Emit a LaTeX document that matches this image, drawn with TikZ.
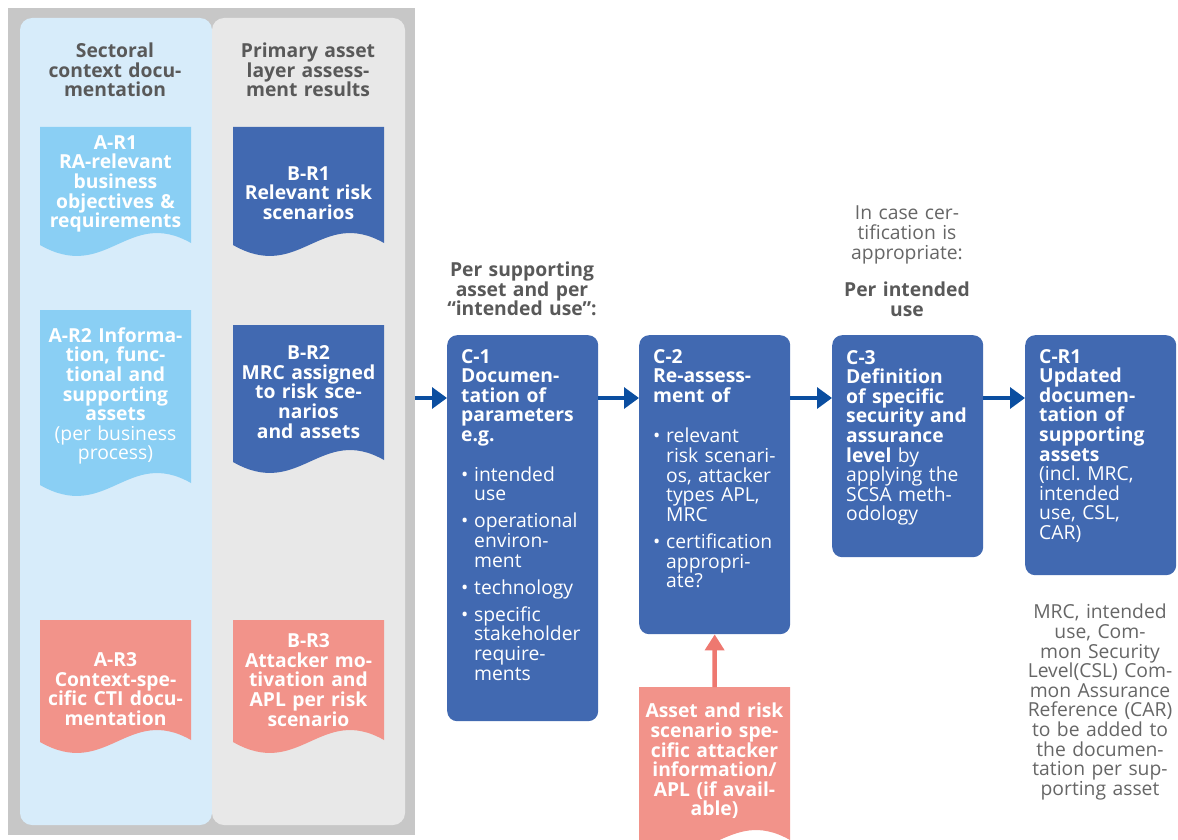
\documentclass[tikz,border=0pt]{standalone}
\usepackage{fontspec}
\setmainfont{Open Sans}
\usetikzlibrary{arrows.meta,calc}
\frenchspacing

\definecolor{frameg}{HTML}{C7C7C7}
\definecolor{panelblue}{HTML}{D7ECFA}
\definecolor{panelgrey}{HTML}{E8E8E8}
\definecolor{docblue}{HTML}{8ACFF4}
\definecolor{boxblue}{HTML}{4169B1}
\definecolor{salmon}{HTML}{F2938A}
\definecolor{arrowblue}{HTML}{0B4EA0}
\definecolor{arrowred}{HTML}{EE7870}
\definecolor{headgrey}{HTML}{595959}
\definecolor{notegrey}{HTML}{666666}

% document shape with a wavy bottom edge: colour, x0, top, x1, bottom
\newcommand\wavedoc[5]{%
  \fill[#1] (#2,#3) -- (#4,#3) -- (#4,#5-2)
    .. controls ({#2+0.58*(#4-#2)},#5-38) and ({#2+0.44*(#4-#2)},#5+38) .. (#2,#5) -- cycle;}

% bullet item with hanging indent
\newcommand\bitem[2][7.5pt]{\par\vspace{#1}{\mdseries\hangindent=13pt\hangafter=1\noindent\hbox to 13pt{\textbullet\hfil}#2\par}}

\tikzset{
  bodyfont/.style={font=\fontsize{19.3}{19.6}\selectfont\frenchspacing},
  boldfont/.style={font=\fontsize{19.3}{19.6}\selectfont\bfseries\frenchspacing},
  head/.style={boldfont, inner sep=0pt, text=headgrey, align=center, text width=190pt},
  note/.style={bodyfont, inner sep=0pt, text=notegrey, align=center, text width=190pt},
  doctext/.style={boldfont, inner sep=0pt, text=white, align=center, text width=170pt},
  cbox/.style={fill=boxblue, rounded corners=10pt, minimum width=151pt, inner sep=0pt, anchor=north west},
  ctext/.style={boldfont, inner sep=0pt, text=white, align=left, text width=160pt, anchor=north west},
  arr/.style={arrowblue, line width=3.3pt, -{Triangle[length=15pt,width=21pt]}},
  uparr/.style={arrowred, line width=4.5pt, -{Triangle[length=16pt,width=19pt]}}
}

\begin{document}
\begin{tikzpicture}[x=1pt,y=-1pt]
\clip (0,0) rectangle (1178,840);

% input panels
\node[fill=frameg, minimum width=407pt, minimum height=827pt, anchor=north west, inner sep=0pt] (frame) at (8,8) {};
\fill[panelblue, rounded corners=12pt] (20,18) rectangle (212,825);
\fill[panelgrey, rounded corners=12pt] (212,18) rectangle (405,825);

\node[head] (hA) at (115,70) {Sectoral\\context docu-\\mentation};
\node[head] (hB) at (308,70) {Primary asset\\layer assess-\\ment results};

% sectoral context documents
\wavedoc{docblue}{40}{127}{191}{245}
\node[doctext] (ar1) at (115.5,184) {A-R1\\RA-relevant\\business\\objectives \&\\requirements};
\wavedoc{docblue}{40}{310}{191}{485}
\node[doctext] (ar2) at (115.5,396) {A-R2 Informa-\\tion, func-\\tional and\\supporting\\assets\\{\mdseries (per business}\\{\mdseries process)}};
\wavedoc{salmon}{40}{620}{191}{742}
\node[doctext] (ar3) at (115.5,689) {A-R3\\Context-spe-\\cific CTI docu-\\mentation};

% primary asset layer results
\wavedoc{boxblue}{233}{127}{384}{245}
\node[doctext] (br1) at (308.5,193) {B-R1\\Relevant risk\\scenarios};
\wavedoc{boxblue}{233}{325}{384}{462}
\node[doctext] (br2) at (308.5,392) {B-R2\\MRC assigned\\to risk sce-\\narios\\and assets};
\wavedoc{salmon}{233}{620}{384}{742}
\node[doctext] (br3) at (308.5,680) {B-R3\\Attacker mo-\\tivation and\\APL per risk\\scenario};

% process headings
\node[head] (ps) at (522,289) {Per supporting\\asset and per\\“intended use”:};
\node[note] (cert) at (907,235) {In case cer-\\tification is\\appropriate:};
\node[head] (pi) at (907,299) {Per intended\\use};

% process steps
\node[cbox, minimum height=386pt] (c1) at (447,335) {};
\node[ctext] (c1t) at ($(c1.north west)+(14,14)$) {C-1\\Documen-\\tation of\\parameters\\e.g.
  \bitem[20pt]{intended\newline use}
  \bitem{operational\newline environ-\newline ment}
  \bitem{technology}
  \bitem{specific\newline stakeholder\newline require-\newline ments}};

\node[cbox, minimum height=299pt] (c2) at (639,335) {};
\node[ctext] (c2t) at ($(c2.north west)+(14,14)$) {C-2\\Re-assess-\\ment of
  \bitem[21pt]{relevant\newline risk scenari-\newline os, attacker\newline types APL,\newline MRC}
  \bitem{certification\newline appropri-\newline ate?}};

\node[cbox, minimum height=222pt] (c3) at (832,335) {};
\node[ctext] (c3t) at ($(c3.north west)+(14,15)$) {C-3\\Definition\\of specific\\security and\\assurance\\level {\mdseries by}\\{\mdseries applying the}\\{\mdseries SCSA meth-}\\{\mdseries odology}};

\node[cbox, minimum height=240pt] (cr1) at (1025,335) {};
\node[ctext] (cr1t) at ($(cr1.north west)+(14,14)$) {C-R1\\Updated\\documen-\\tation of\\supporting\\assets\\{\mdseries (incl. MRC,}\\{\mdseries intended}\\{\mdseries use, CSL,}\\{\mdseries CAR)}};

\node[note] (crn) at (1100,702) {MRC, intended\\use, Com-\\mon Security\\Level(CSL) Com-\\mon Assurance\\Reference (CAR)\\to be added to\\the documen-\\tation per sup-\\porting asset};

% attacker information input
\wavedoc{salmon}{639}{687}{790}{842}
\node[doctext, anchor=north, inner ysep=16pt] (sal) at (714.5,687) {Asset and risk\\scenario spe-\\cific attacker\\information/\\APL (if avail-\\able)};

% flow
\coordinate (ay) at (0,398);
\draw[arr] (frame.east |- ay) -- (c1.west |- ay);
\draw[arr] (c1.east |- ay) -- (c2.west |- ay);
\draw[arr] (c2.east |- ay) -- (c3.west |- ay);
\draw[arr] (c3.east |- ay) -- (cr1.west |- ay);
\draw[uparr] (sal.north) -- (c2.south);
\end{tikzpicture}
\end{document}
